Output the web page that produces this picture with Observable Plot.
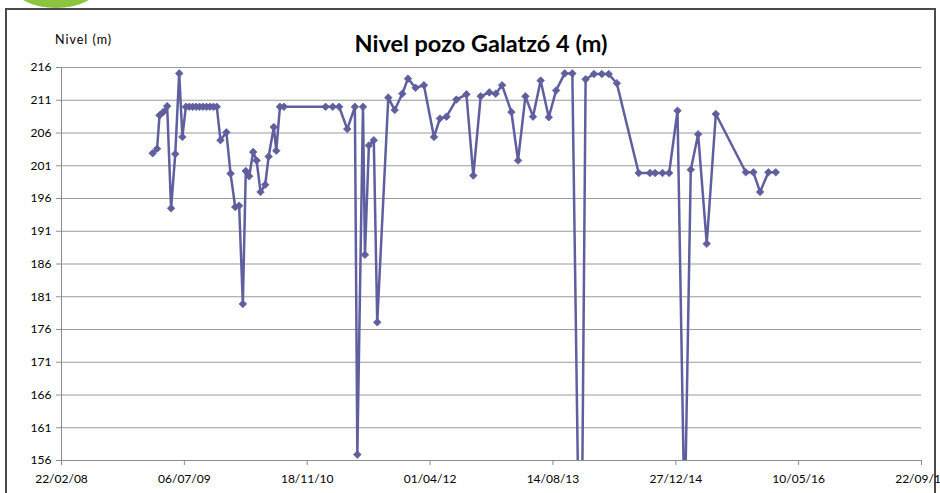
<!DOCTYPE html>
<html><head><meta charset="utf-8">
<script src="https://cdn.jsdelivr.net/npm/d3@7"></script>
<script src="https://cdn.jsdelivr.net/npm/@observablehq/plot@0.6"></script>
<style>
html,body{margin:0;padding:0;background:#fff;overflow:hidden}
#wrap{position:relative;width:940px;height:493px;overflow:hidden;font-family:Lato,"Open Sans",sans-serif}
#blob{position:absolute;left:12px;top:-40px;width:88px;height:48px;border-radius:50%;background:#8cc43e}
#frame{position:absolute;left:5px;top:8px;width:931px;height:500px;border:2px solid #4a4a4a;box-sizing:border-box}
#title{position:absolute;top:29px;left:0;width:962px;text-align:center;font-weight:bold;font-size:23.5px;color:#000}
#ylab{position:absolute;left:55px;top:32px;font-size:12.5px;letter-spacing:1px;color:#000}
#chart{position:absolute;left:0;top:0}
</style></head><body><div id="wrap">
<div id="frame"></div>
<div id="blob"></div>
<div id="ylab">Nivel (m)</div>
<div id="title">Nivel pozo Galatzó 4 (m)</div>
<div id="chart"></div>
</div>
<script>
const dates = [
"2009-02-27","2009-03-17","2009-03-27","2009-04-11","2009-04-27","2009-05-13","2009-05-30","2009-06-15","2009-06-28",
"2009-07-12","2009-07-26","2009-08-09","2009-08-23","2009-09-06","2009-09-20","2009-10-04","2009-10-18","2009-11-01","2009-11-15",
"2009-11-30","2009-12-24","2010-01-10","2010-01-29","2010-02-14","2010-03-01","2010-03-13","2010-03-27","2010-04-12","2010-04-26",
"2010-05-12","2010-05-31","2010-06-14","2010-07-05","2010-07-15","2010-07-30","2010-08-15",
"2011-02-01","2011-03-02","2011-03-28","2011-04-30","2011-05-31","2011-06-10","2011-07-03","2011-07-11","2011-07-27","2011-08-16","2011-08-30",
"2011-10-14","2011-11-09","2011-12-10","2012-01-02","2012-02-02","2012-03-07","2012-04-17","2012-05-11","2012-06-07","2012-07-17","2012-08-27","2012-09-24","2012-10-24","2012-11-28","2012-12-24",
"2013-01-19","2013-02-26","2013-03-25","2013-04-24","2013-05-25","2013-06-25","2013-07-28","2013-08-27","2013-10-01","2013-11-01","2013-12-05","2013-12-25",
"2014-01-28","2014-03-01","2014-03-29","2014-05-01","2014-07-29","2014-09-13","2014-10-04","2014-11-03","2014-11-30",
"2015-01-03","2015-02-01","2015-02-26","2015-03-28","2015-05-02","2015-06-08","2015-10-08","2015-11-08","2015-12-05","2016-01-08","2016-02-07"
];
const levels = [
202.9,203.6,208.7,209.2,210.1,194.5,202.8,215.1,205.4,
210,210,210,210,210,210,210,210,210,210,
204.9,206.1,199.8,194.7,194.9,179.9,200.2,199.4,203.1,201.8,
197.0,198.1,202.4,206.9,203.3,210,210,
210,210,210,206.6,210,156.9,210,187.4,204.1,204.9,177.1,
211.4,209.5,212.0,214.3,212.9,213.3,205.4,208.2,208.5,211.1,211.9,199.5,211.6,212.2,212.0,
213.3,209.2,201.8,211.6,208.5,214.0,208.4,212.5,215.1,215.1,124,214.2,
215.0,215.0,215.0,213.6,199.9,199.9,199.9,199.9,199.9,
209.4,146,200.4,205.8,189.1,208.9,200,200,197,200,200
];
const xTickLabels = ["22/02/08","06/07/09","18/11/10","01/04/12","14/08/13","27/12/14","10/05/16","22/09/17"];
const yTicks = [156,161,166,171,176,181,186,191,196,201,206,211,216];

const parseDMY = d3.utcParse("%d/%m/%y");
const xTicks = xTickLabels.map(parseDMY);
const data = dates.map((d, i) => ({date: new Date(d + "T00:00:00Z"), level: levels[i]}));
const color = "#5f5f9f";
const axisColor = "#8c8c8c";

const chart = Plot.plot({
  width: 940, height: 493,
  marginLeft: 61, marginRight: 19, marginTop: 67, marginBottom: 33,
  style: {fontFamily: "Lato, 'Open Sans', sans-serif", fontSize: "12px", color: "#000", background: "transparent", overflow: "hidden"},
  x: {type: "utc", domain: [xTicks[0], xTicks[xTicks.length - 1]]},
  y: {domain: [156, 216]},
  marks: [
    Plot.gridY(yTicks, {stroke: "#9a9a9a", strokeOpacity: 1, strokeWidth: 1}),
    Plot.axisY(yTicks, {tickSize: 5, tickPadding: 5, stroke: axisColor, label: null, tickFormat: d => String(d)}),
    Plot.axisX(xTicks, {tickSize: 5, tickPadding: 9, stroke: axisColor, label: null, tickFormat: d3.utcFormat("%d/%m/%y")}),
    Plot.ruleX([xTicks[0]], {stroke: axisColor}),
    Plot.ruleY([156], {stroke: axisColor}),
    Plot.line(data, {x: "date", y: "level", stroke: color, strokeWidth: 2.5, clip: true}),
    Plot.dot(data, {x: "date", y: "level", symbol: "diamond2", r: 3.4, fill: color, stroke: color, strokeWidth: 0.8, clip: true})
  ]
});
document.getElementById("chart").appendChild(chart);
</script>
</body></html>
